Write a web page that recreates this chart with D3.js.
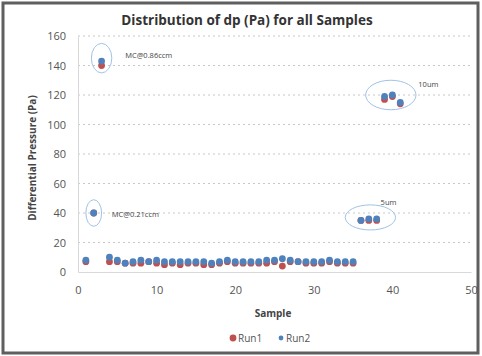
<!DOCTYPE html>
<html>
<head>
<meta charset="utf-8">
<script src="https://cdn.jsdelivr.net/npm/d3@7"></script>
<style>
  body { margin: 0; background: #fff; }
  svg { display: block; font-family: "Open Sans", "DejaVu Sans", sans-serif; }
</style>
</head>
<body>
<svg id="chart" width="482" height="356"></svg>
<script>
const samples = d3.range(1, 42);
const run1 = [7, 40, 140, 7, 7, 6, 6, 6, 7, 6, 5, 6, 5, 6, 6, 5, 5, 6, 7, 6, 6, 6, 6, 6, 7, 4, 7, 7, 6, 6, 6, 7, 6, 6, 6, 35, 35, 35, 117, 119, 114];
const run2 = [8, 40, 143, 10, 8, 6, 7, 8, 7, 8, 7, 7, 7, 7, 7, 7, 6, 7, 8, 7, 7, 7, 7, 8, 8, 9, 8, 7, 7, 7, 7, 8, 7, 7, 7, 35, 36, 36, 119, 120, 115];
const xTicks = [0, 10, 20, 30, 40, 50];
const yTicks = [0, 20, 40, 60, 80, 100, 120, 140, 160];
const seriesNames = ['Run1', 'Run2'];
const seriesColors = ['#c0504d', '#4f81bd'];
// callouts: centre sample/value, half-sizes in sample/value units
const callouts = [
  { label: 'MC@0.86ccm', cx: 3, cy: 145, rx: 1.3, ry: 10, lx: 6, ly: 147 },
  { label: 'MC@0.21ccm', cx: 2, cy: 40, rx: 1.0, ry: 9, lx: 4.3, ly: 39 },
  { label: '10um', cx: 39.8, cy: 120, rx: 3.2, ry: 10, lx: 43.3, ly: 127 },
  { label: '5um', cx: 37.2, cy: 37, rx: 3.2, ry: 8.5, lx: 38.5, ly: 47 }
];

const svg = d3.select('#chart');
const W = 482, H = 356;
const margin = { left: 78, right: 11, top: 36, bottom: 84 };

// frame
svg.append('rect').attr('x', 3).attr('y', 3).attr('width', W - 7).attr('height', H - 6)
  .attr('fill', '#fff').attr('stroke', '#5f5f5f').attr('stroke-width', 3);

const x = d3.scaleLinear().domain([0, 50]).range([margin.left, W - margin.right]);
const y = d3.scaleLinear().domain([0, 160]).range([H - margin.bottom, margin.top]);

// gridlines
svg.append('g')
  .selectAll('line')
  .data(yTicks.filter(d => d > 0))
  .join('line')
  .attr('x1', x(0)).attr('x2', x(50))
  .attr('y1', d => y(d)).attr('y2', d => y(d))
  .attr('stroke', '#c8c8c8').attr('stroke-width', 1)
  .attr('stroke-dasharray', '2,3');

// axes
const xAxis = svg.append('g')
  .attr('transform', `translate(0,${y(0)})`)
  .call(d3.axisBottom(x).tickValues(xTicks).tickSize(0).tickPadding(14));
const yAxis = svg.append('g')
  .attr('transform', `translate(${x(0)},0)`)
  .call(d3.axisLeft(y).tickValues(yTicks).tickSize(0).tickPadding(12));
[xAxis, yAxis].forEach(a => {
  a.select('.domain').attr('stroke', '#d9d9d9');
  a.selectAll('text').attr('fill', '#555').style('font-size', '11px')
    .style('font-family', '"Open Sans", sans-serif');
});

// points
const series = [run1, run2];
series.forEach((vals, i) => {
  svg.append('g')
    .selectAll('circle')
    .data(vals.map((v, j) => ({ s: samples[j], v })))
    .join('circle')
    .attr('cx', d => x(d.s))
    .attr('cy', d => y(d.v))
    .attr('r', 3.4)
    .attr('fill', seriesColors[i]);
});

// callouts
const cg = svg.append('g');
cg.selectAll('ellipse')
  .data(callouts)
  .join('ellipse')
  .attr('cx', d => x(d.cx)).attr('cy', d => y(d.cy))
  .attr('rx', d => x(d.rx) - x(0)).attr('ry', d => y(0) - y(d.ry))
  .attr('fill', 'none').attr('stroke', '#9fc3e6').attr('stroke-width', 1);
cg.selectAll('text')
  .data(callouts)
  .join('text')
  .attr('x', d => x(d.lx)).attr('y', d => y(d.ly))
  .attr('dy', '0.35em')
  .attr('fill', '#444')
  .style('font-size', '7.5px')
  .text(d => d.label);

// titles
svg.append('text')
  .attr('x', 247).attr('y', 25)
  .attr('text-anchor', 'middle')
  .attr('fill', '#333')
  .style('font-size', '13.5px').style('font-weight', 'bold')
  .text('Distribution of dp (Pa) for all Samples');
svg.append('text')
  .attr('x', 273).attr('y', 317)
  .attr('text-anchor', 'middle')
  .attr('fill', '#444')
  .style('font-size', '10px').style('font-weight', 'bold')
  .text('Sample');
svg.append('text')
  .attr('transform', `translate(36,${(y(0) + y(160)) / 2 + 4}) rotate(-90)`)
  .attr('text-anchor', 'middle')
  .attr('fill', '#444')
  .style('font-size', '10px').style('font-weight', 'bold')
  .text('Differential Pressure (Pa)');

// legend
const lg = svg.append('g').attr('transform', 'translate(233,338)');
const items = lg.selectAll('g')
  .data(seriesNames)
  .join('g')
  .attr('transform', (d, i) => `translate(${i * 48},0)`);
items.append('circle').attr('r', (d, i) => i === 0 ? 3.4 : 2.4).attr('fill', (d, i) => seriesColors[i]);
items.append('text').attr('x', 5).attr('dy', '0.35em')
  .attr('fill', '#555').style('font-size', '10px').text(d => d);
</script>
</body>
</html>
